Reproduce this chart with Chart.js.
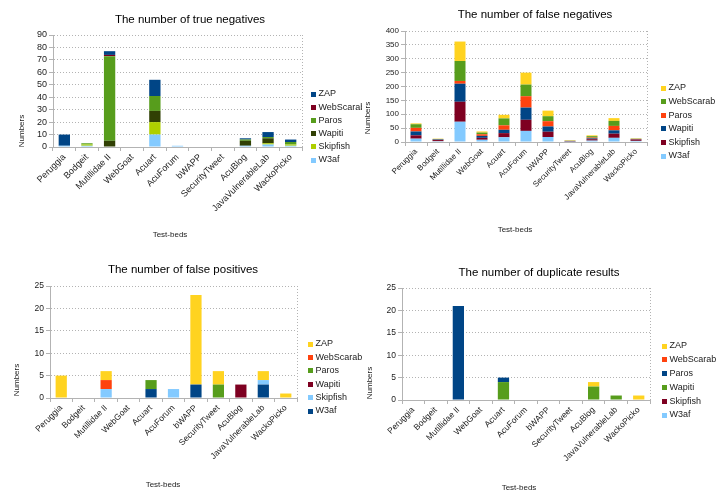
<!DOCTYPE html>
<html>
<head>
<meta charset="utf-8">
<script src="https://cdn.jsdelivr.net/npm/chart.js@4"></script>
<style>
html,body{margin:0;padding:0;background:#fff;}
#wrap{position:relative;width:724px;height:491px;background:#fff;overflow:hidden;}
canvas{position:absolute;}
</style>
</head>
<body>
<div id="wrap">
<canvas id="c1" width="362" height="245" style="left:0;top:0"></canvas>
<canvas id="c2" width="362" height="245" style="left:362px;top:0"></canvas>
<canvas id="c3" width="362" height="246" style="left:0;top:245px"></canvas>
<canvas id="c4" width="362" height="246" style="left:362px;top:245px"></canvas>
</div>
<script>
// ---------- DATA ----------
const categories = ['Peruggia','Bodgeit','Mutillidae II','WebGoat','Acuart','AcuForum','bWAPP','SecurityTweet','AcuBlog','JavaVulnerableLab','WackoPicko'];
const series = ['W3af','Skipfish','Wapiti','Paros','WebScarab','ZAP']; // bottom to top of stack

// true negatives
const tnW3af      = [1,1,0,0,10,1,0,0,1,2,1];
const tnSkipfish  = [0,1,0,0,10,0,0,0,0,1,1];
const tnWapiti    = [0,0,5,0,9,0,0,0,4,4,0];
const tnParos     = [0,1,68,0,12,0,0,0,1,1,2];
const tnWebScarab = [0,0,1,0,0,0,0,0,0,0,0];
const tnZAP       = [9,0,3,0,13,0,0,0,1,4,2];

// false negatives
const fnW3af      = [12,3,73,8,17,40,18,1,5,15,4];
const fnSkipfish  = [12,4,72,7,15,40,19,1,5,15,5];
const fnWapiti    = [14,2,65,7,12,44,19,1,3,12,1];
const fnParos     = [13,1,10,6,16,41,19,1,3,16,1];
const fnWebScarab = [13,1,72,6,25,42,18,1,5,18,1];
const fnZAP       = [3,1,70,4,13,43,20,1,3,10,1];

// false positives
const fpW3af      = [0,0,0,0,2,0,3,0,0,3,0];
const fpSkipfish  = [0,0,2,0,0,2,0,0,0,1,0];
const fpWapiti    = [0,0,0,0,0,0,0,0,3,0,0];
const fpParos     = [0,0,0,0,2,0,0,3,0,0,0];
const fpWebScarab = [0,0,2,0,0,0,0,0,0,0,0];
const fpZAP       = [5,0,2,0,0,0,20,3,0,2,1];

// duplicate results
const dupW3af      = [0,0,0,0,0,0,0,0,0,0,0];
const dupSkipfish  = [0,0,0,0,0,0,0,0,0,0,0];
const dupWapiti    = [0,0,0,0,4,0,0,0,3,1,0];
const dupParos     = [0,0,21,0,1,0,0,0,0,0,0];
const dupWebScarab = [0,0,0,0,0,0,0,0,0,0,0];
const dupZAP       = [0,0,0,0,0,0,0,0,1,0,1];

const titles = ['The number of true negatives','The number of false negatives','The number of false positives','The number of duplicate results'];
const yAxisTitle = 'Numbers';
const xAxisTitle = 'Test-beds';
const yMaxes = [90,400,25,25];
const ySteps = [10,50,5,5];

// ---------- STYLE ----------
const FONT = '"Liberation Sans", Arial, sans-serif';
Chart.defaults.font.family = FONT;
const C = {dblue:'#004586', ored:'#ff420e', yellow:'#ffd320', green:'#579d1c', dred:'#7e0021', lblue:'#83caff', olive:'#314004', ygreen:'#aecf00'};

const decor = {
  id:'decor',
  afterDraw(chart, args, o){
    const ctx = chart.ctx, ca = chart.chartArea;
    ctx.save();
    ctx.strokeStyle = '#b3b3b3'; ctx.lineWidth = 1; ctx.setLineDash([1,2]);
    ctx.beginPath(); ctx.moveTo(Math.round(ca.right)+0.5, ca.top); ctx.lineTo(Math.round(ca.right)+0.5, ca.bottom); ctx.stroke();
    ctx.setLineDash([]);
    ctx.fillStyle = '#000'; ctx.textAlign = 'center'; ctx.textBaseline = 'middle';
    ctx.font = '11.5px ' + FONT;
    ctx.fillText(o.title, o.tx, o.ty);
    ctx.fillStyle = '#222';
    ctx.font = '8px ' + FONT;
    ctx.fillText(xAxisTitle, o.xx, o.xy);
    ctx.save(); ctx.translate(o.yx, o.yy); ctx.rotate(-Math.PI/2); ctx.fillText(yAxisTitle, 0, 0); ctx.restore();
    const ds = chart.data.datasets;
    ctx.textAlign = 'left';
    ctx.font = '9px ' + FONT;
    for (let i = 0; i < ds.length; i++) {
      const d = ds[ds.length-1-i];
      const y = o.ly + i*o.ls;
      ctx.fillStyle = d.backgroundColor;
      ctx.fillRect(o.lx, Math.round(y-2.5), 5, 5);
      ctx.fillStyle = '#222';
      ctx.fillText(d.label, o.lx+7.5, y);
    }
    ctx.restore();
  }
};

function makeChart(id, values, colors, idx, lay, dec){
  const datasets = series.map((s,i)=>({
    label:s, data:values[i], backgroundColor:colors[i], borderWidth:0,
    barPercentage:0.5, categoryPercentage:1.0
  }));
  new Chart(document.getElementById(id), {
    type:'bar',
    data:{labels:categories, datasets},
    options:{
      responsive:false, animation:false,
      layout:{padding:{left:lay.pl, right:lay.pr, top:lay.pt, bottom:0}},
      plugins:{legend:{display:false}, title:{display:false}, tooltip:{enabled:false},
        decor:Object.assign({title:titles[idx]}, dec)},
      scales:{
        x:{stacked:true, offset:true,
          grid:{drawOnChartArea:false, drawTicks:true, tickLength:4, color:'#b3b3b3', offset:true},
          border:{display:true, color:'#b3b3b3'},
          ticks:{autoSkip:false, minRotation:45, maxRotation:45, color:'#222', font:{size:lay.fs}, padding:1},
          afterFit(s){ s.height = lay.xh; }
        },
        y:{stacked:true, min:0, max:yMaxes[idx],
          grid:{color:'#b3b3b3', tickLength:4, drawTicks:true},
          border:{display:true, color:'#b3b3b3', dash:[1,2]},
          ticks:{stepSize:ySteps[idx], autoSkip:false, maxTicksLimit:30, color:'#222', font:{size:lay.fs}, padding:2},
          afterFit(s){ s.width = 20; }
        }
      }
    },
    plugins:[decor]
  });
}

makeChart('c1', [tnW3af,tnSkipfish,tnWapiti,tnParos,tnWebScarab,tnZAP],
  [C.lblue,C.ygreen,C.olive,C.green,C.dred,C.dblue], 0,
  {pl:33, pr:60, pt:35, xh:98, fs:9},
  {tx:190, ty:20, xx:170, xy:235, yx:22, yy:131, lx:311, ly:94, ls:13.2});

makeChart('c2', [fnW3af,fnSkipfish,fnWapiti,fnParos,fnWebScarab,fnZAP],
  [C.lblue,C.dred,C.dblue,C.ored,C.green,C.yellow], 1,
  {pl:23, pr:77, pt:31, xh:103, fs:8},
  {tx:173, ty:15, xx:153, xy:230, yx:6, yy:118, lx:299, ly:88, ls:13.6});

makeChart('c3', [fpW3af,fpSkipfish,fpWapiti,fpParos,fpWebScarab,fpZAP],
  [C.dblue,C.lblue,C.dred,C.green,C.ored,C.yellow], 2,
  {pl:30, pr:65, pt:41, xh:93, fs:8.5},
  {tx:183, ty:25, xx:163, xy:240, yx:17, yy:135, lx:308, ly:99, ls:13.4});

makeChart('c4', [dupW3af,dupSkipfish,dupWapiti,dupParos,dupWebScarab,dupZAP],
  [C.lblue,C.dred,C.green,C.dblue,C.ored,C.yellow], 3,
  {pl:20, pr:74, pt:43, xh:91, fs:8.5},
  {tx:177, ty:28, xx:157, xy:243, yx:8, yy:138, lx:300, ly:101, ls:13.8});
</script>
</body>
</html>
